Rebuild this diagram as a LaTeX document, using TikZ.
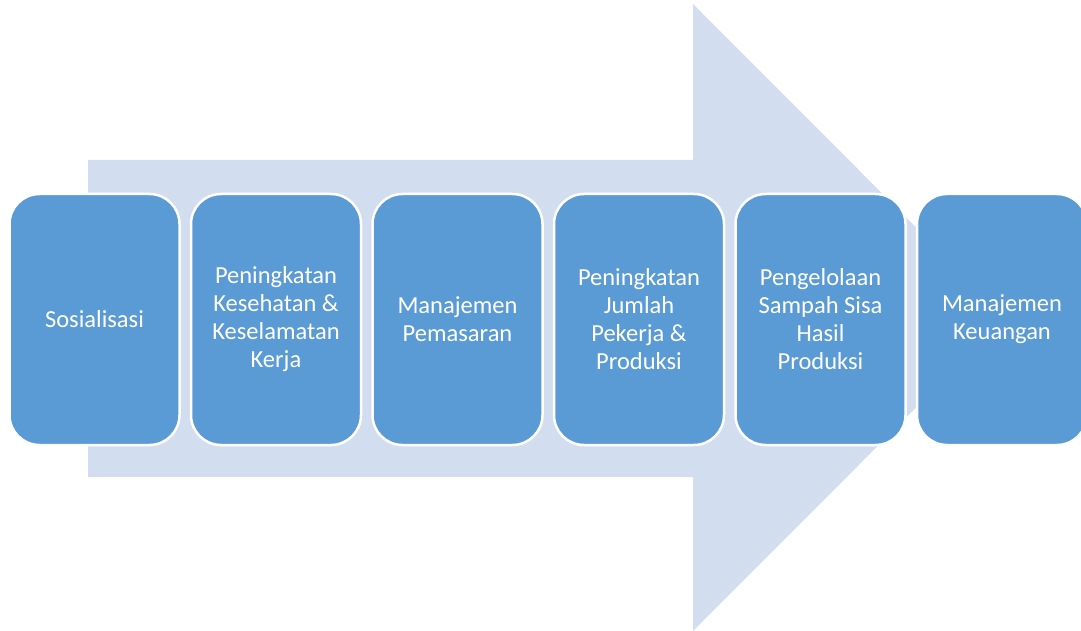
\documentclass[tikz,border=0pt]{standalone}
\usepackage{fontspec}
\setmainfont{Carlito}
\usetikzlibrary{positioning}
\definecolor{arrowblue}{HTML}{D2DEEF}
\definecolor{boxblue}{HTML}{5B9BD5}
\tikzset{
  stage/.style={draw=white, line width=2.5pt, fill=boxblue, rounded corners=30pt,
    minimum width=170pt, minimum height=251pt, text=white, align=center,
    font=\fontsize{24.5}{28}\selectfont, inner sep=0pt},
}
\begin{document}
\begin{tikzpicture}[x=1pt,y=-1pt]
   \useasboundingbox (0,0) rectangle (1081,631);
   % big arrow behind
   \fill[arrowblue] (88,160) -- (693,160) -- (693,4) -- (1006,317.5)
   -- (693,631) -- (693,477) -- (88,477) -- cycle;
   % stages
   \node[stage] (sos) at (94.5,319.5) {Sosialisasi};
   \node[stage, right=9pt of sos] (k3) {Peningkatan\\Kesehatan \&\\Keselamatan\\Kerja};
   \node[stage, right=9pt of k3] (mpem) {Manajemen\\Pemasaran};
   \node[stage, right=9pt of mpem] (jml) {Peningkatan\\Jumlah\\Pekerja \&\\Produksi};
   \node[stage, right=9pt of jml] (smp) {Pengelolaan\\Sampah Sisa\\Hasil\\Produksi};
   \node[stage, right=9pt of smp] (mkeu) {Manajemen\\Keuangan};
 \end{tikzpicture}
\end{document}
